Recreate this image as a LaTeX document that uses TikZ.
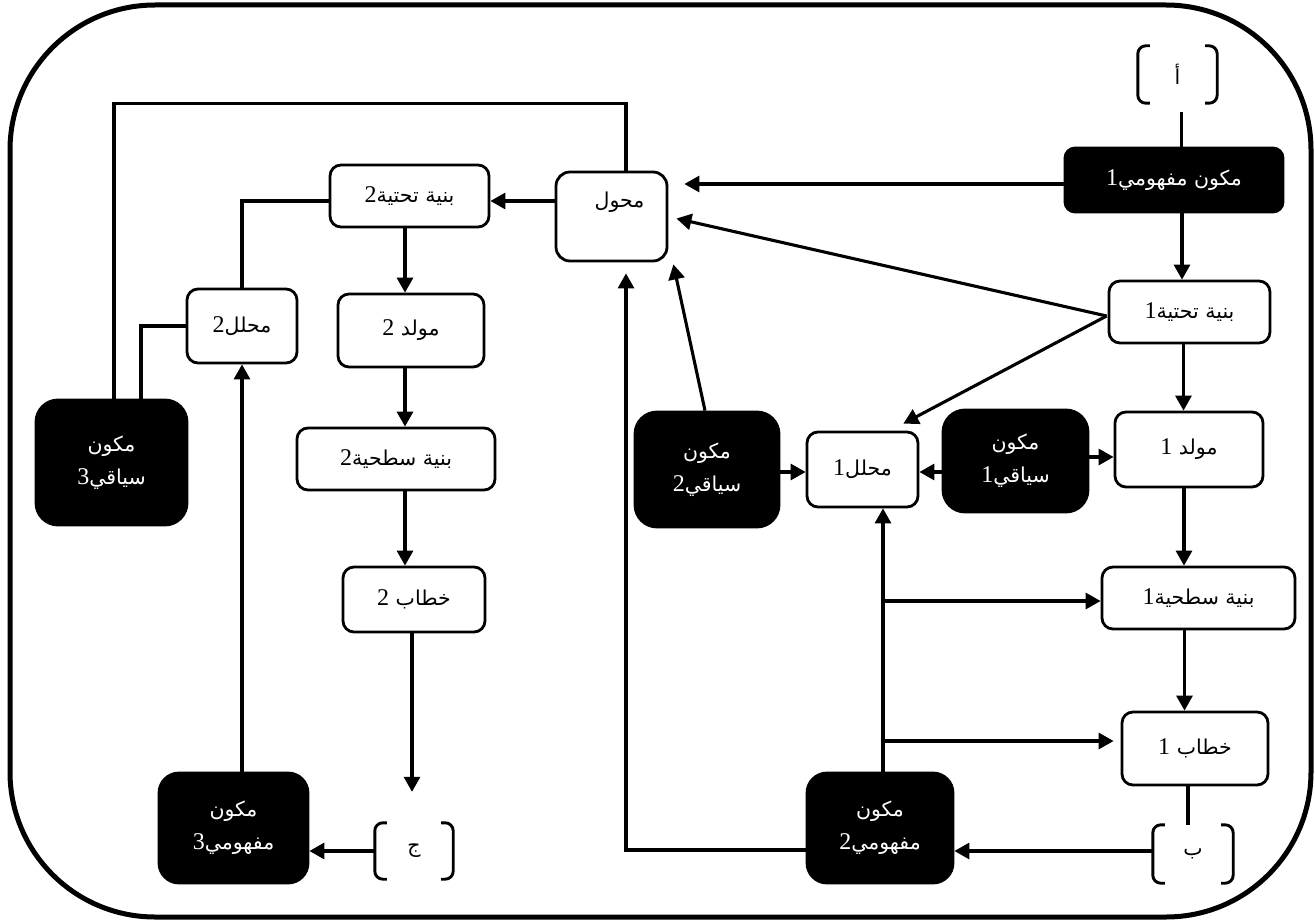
\documentclass[tikz,border=0pt]{standalone}
\usepackage{fontspec}
\setmainfont{Liberation Serif}
\newfontfamily\arabicfont[Script=Arabic]{DejaVu Sans}
\newfontfamily\digitfont{Liberation Serif}
\TeXXeTstate=1
\usetikzlibrary{arrows.meta,calc}
% right-to-left run of Arabic text
\newcommand\artext[1]{\beginR #1\endR}
% Latin digit set in the serif face
\newcommand\Dg[1]{{\digitfont\fontsize{24}{26}\selectfont #1}}

\begin{document}
\begin{tikzpicture}[x=1pt,y=-1pt,
  every node/.style={font=\arabicfont\fontsize{20.5}{33}\selectfont, inner sep=2pt},
  wbox/.style={draw, line width=2.8pt, rounded corners=11, fill=white, align=center},
  bbox/.style={draw, line width=2.8pt, rounded corners=22, fill=black, text=white, align=center},
  brkt/.style={inner sep=0pt},
  brk/.style={line width=2.9pt, rounded corners=8},
  link/.style={line width=3.1pt},
  arr/.style={link, -{Triangle[length=15pt,width=16pt]}},
]
\useasboundingbox (0,0) rectangle (1315,923);

% outer frame
\draw[line width=5pt, rounded corners=145] (10,5) rectangle (1311,917);

% ---- nodes ----
\node[brkt, minimum width=79, minimum height=57] (bA) at (1177.5,74.5) {\artext{أ}};
\node[bbox, rounded corners=10, minimum width=218, minimum height=64] (mf1) at (1174,180) {\artext{مكون مفهومي\Dg{1}}};
\node[wbox, rounded corners=14, minimum width=111, minimum height=89] (mhwl) at (611.5,216.5) {};
\node at ($(mhwl.center)+(8,-14)$) {\artext{محول}};
\node[wbox, minimum width=161, minimum height=62] (bt1) at (1189.5,312) {\artext{بنية تحتية\Dg{1}}};
\node[wbox, minimum width=111, minimum height=75] (mh1) at (862.5,469.5) {\artext{محلل\Dg{1}}};
\node[bbox, minimum width=145, minimum height=102] (sq1) at (1015.5,461) {\artext{مكون}\\\artext{سياقي\Dg{1}}};
\node[wbox, minimum width=148, minimum height=75] (mw1) at (1189,449.5) {\artext{مولد \Dg{1}}};
\node[bbox, minimum width=144, minimum height=115] (sq2) at (707,469.5) {\artext{مكون}\\\artext{سياقي\Dg{2}}};
\node[wbox, minimum width=193, minimum height=62] (bS1) at (1198.5,598) {\artext{بنية سطحية\Dg{1}}};
\node[wbox, minimum width=146, minimum height=73] (kh1) at (1195,748.5) {\artext{خطاب \Dg{1}}};
\node[brkt, minimum width=80, minimum height=58] (bB) at (1193,854) {\artext{ب}};
\node[bbox, rounded corners=20, minimum width=146, minimum height=110] (mf2) at (880,828) {\artext{مكون}\\\artext{مفهومي\Dg{2}}};
\node[wbox, minimum width=159, minimum height=62] (bt2) at (409.5,196) {\artext{بنية تحتية\Dg{2}}};
\node[wbox, minimum width=146, minimum height=73] (mw2) at (411,330.5) {\artext{مولد \Dg{2}}};
\node[wbox, minimum width=198, minimum height=62] (bS2) at (396,459) {\artext{بنية سطحية\Dg{2}}};
\node[wbox, minimum width=142, minimum height=65] (kh2) at (414,599.5) {\artext{خطاب \Dg{2}}};
\node[brkt, minimum width=78, minimum height=56] (bJ) at (414,851) {\artext{ج}};
\node[bbox, rounded corners=20, minimum width=149, minimum height=110] (mf3) at (233.5,828) {\artext{مكون}\\\artext{مفهومي\Dg{3}}};
\node[wbox, minimum width=110, minimum height=74] (mh2) at (242,326) {\artext{محلل\Dg{2}}};
\node[bbox, minimum width=151, minimum height=125] (sq3) at (111.5,462.5) {\artext{مكون}\\\artext{سياقي\Dg{3}}};

% bracket pairs
\foreach \b in {bA,bB,bJ}{
  \draw[brk] ([xshift=12]\b.north west) -- (\b.north west) -- (\b.south west) -- ([xshift=12]\b.south west);
  \draw[brk] ([xshift=-12]\b.north east) -- (\b.north east) -- (\b.south east) -- ([xshift=-12]\b.south east);
}

% ---- connectors ----
% right column
\coordinate (q0) at ($(bA.south)+(4,0)$);
\draw[link, shorten <=9] (q0) -- (q0 |- mf1.north);
\coordinate (q1) at ($(mf1.west)+(0,4)$);
\draw[arr] (q1) -- ($(q1 -| mhwl.east)+(16,0)$);
\coordinate (q2) at ($(mf1.south)+(8,0)$);
\draw[arr] (q2) -- (q2 |- bt1.north);
\coordinate (q3) at ($(bt1.west)+(-1,4)$);
\draw[arr] (q3) -- ($(mhwl.east)+(8,2)$);
\draw[arr] (q3) -- ($(mh1.north east)+(-16,-7)$);
\coordinate (q4) at ($(bt1.south)+(-6,0)$);
\draw[arr] (q4) -- (q4 |- mw1.north);
\coordinate (q5) at ($(mw1.south)+(-5,0)$);
\draw[arr] (q5) -- (q5 |- bS1.north);
\coordinate (q6) at ($(bS1.south)+(-14,0)$);
\draw[arr] (q6) -- (q6 |- kh1.north);
\coordinate (q7) at ($(kh1.south)+(-7,0)$);
\draw[link] (q7) -- (q7 |- bB.north);
\coordinate (q8) at ($(bB.west)+(0,-3)$);
\draw[arr] (q8) -- (q8 -| mf2.east);

% context boxes around the first analyser
\coordinate (q9) at ($(sq1.west)+(0,11)$);
\draw[arr] (q9) -- (q9 -| mh1.east);
\coordinate (q10) at ($(sq1.east)+(0,-4)$);
\draw[arr] (q10) -- (q10 -| mw1.west);
\coordinate (q11) at ($(sq2.east)+(0,2.5)$);
\draw[arr] (q11) -- (q11 -| mh1.west);
\draw[arr] ($(sq2.north)+(-2,0)$) -- ($(mhwl.south east)+(5,2)$);

% second conceptual component
\coordinate (q12) at ($(mf2.north)+(3,0)$);
\draw[arr] (q12) -- (q12 |- mh1.south);
\coordinate (q13) at ($(q12 |- bS1.west)+(0,3)$);
\draw[arr] (q13) -- (q13 -| bS1.west);
\coordinate (q14) at ($(q12 |- kh1.west)+(0,-7.5)$);
\draw[arr, shorten >=7] (q14) -- (q14 -| kh1.west);
\coordinate (q15) at ($(mf2.west)+(0,22)$);
\coordinate (q16) at ($(mhwl.south)+(14.5,0)$);
\draw[arr, shorten >=11] (q15) -| (q16);

% transformer outputs
\coordinate (q17) at ($(mhwl.north)+(14.5,0)$);
\coordinate (q18) at ($(sq3.north)+(2.5,0)$);
\draw[link] (q17) -- ++(0,-67) -| (q18);
\coordinate (q19) at ($(mhwl.west)+(0,-15.5)$);
\draw[arr] (q19) -- (q19 -| bt2.east);

% left column
\coordinate (q20) at ($(bt2.west)+(0,5)$);
\draw[link] (q20) -| (mh2.north);
\coordinate (q21) at ($(sq3.north)+(29.5,0)$);
\draw[link] (mh2.west) -| (q21);
\coordinate (q22) at (mh2.south |- mf3.north);
\draw[arr] (q22) -- (mh2.south);
\coordinate (q23) at ($(bt2.south)+(-4.5,0)$);
\draw[arr] (q23) -- (q23 |- mw2.north);
\coordinate (q24) at (q23 |- mw2.south);
\draw[arr] (q24) -- (q24 |- bS2.north);
\coordinate (q25) at (q23 |- bS2.south);
\draw[arr] (q25) -- (q25 |- kh2.north);
\coordinate (q26) at ($(kh2.south)+(-2,0)$);
\draw[arr, shorten >=31] (q26) -- (q26 |- bJ.north);
\draw[arr] (bJ.west) -- (bJ.west -| mf3.east);
\end{tikzpicture}
\end{document}
